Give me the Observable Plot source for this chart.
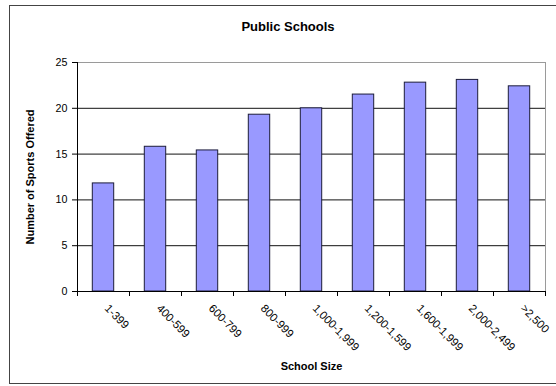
<!DOCTYPE html>
<html>
<head>
<meta charset="utf-8">
<script src="https://cdn.jsdelivr.net/npm/d3@7"></script>
<script src="https://cdn.jsdelivr.net/npm/@observablehq/plot@0.6"></script>
<style>
  html, body { margin: 0; padding: 0; background: #fff; }
  #chart {
    position: relative; width: 556px; height: 386px; overflow: hidden;
    font-family: "Liberation Sans", Arial, sans-serif; background: #fff;
  }
  #outline {
    position: absolute; left: 9px; top: 5px; width: 640px; height: 379px;
    border: 1px solid #444; box-sizing: border-box;
  }
  #title {
    position: absolute; left: 0; top: 20px; width: 576px; text-align: center;
    font-size: 13px; font-weight: bold; line-height: 14px; color: #000;
  }
  #plot { position: absolute; left: 0; top: 0; }
</style>
</head>
<body>
<div id="chart">
  <div id="outline"></div>
  <div id="title">Public Schools</div>
  <div id="plot"></div>
</div>
<script>
// School size groups and the average number of sports offered in each
const sizeGroups = ["1-399", "400-599", "600-799", "800-999", "1,000-1,999", "1,200-1,599", "1,600-1,999", "2,000-2,499", ">2,500"];
const sportsOffered = [11.8, 15.8, 15.4, 19.3, 20.0, 21.5, 22.8, 23.1, 22.4];
const yTicks = [0, 5, 10, 15, 20, 25];
const yGridlines = [5, 10, 15, 20];

const rows = sizeGroups.map((size, i) => ({size, index: i, sports: sportsOffered[i]}));
const n = sizeGroups.length;

const chart = Plot.plot({
  width: 556,
  height: 386,
  marginLeft: 77,
  marginRight: 11,
  marginTop: 62,
  marginBottom: 95,
  style: {fontFamily: "'Liberation Sans', Arial, sans-serif", fontSize: "10.7px", color: "#000", background: "transparent"},
  x: {domain: [0, n], axis: null},
  y: {domain: [0, 25], axis: null},
  marks: [
    Plot.frame({stroke: "#9a9a9a"}),
    Plot.ruleY(yGridlines, {stroke: "#111"}),
    Plot.rectY(rows, {
      x1: "index",
      x2: d => d.index + 1,
      y: "sports",
      insetLeft: 15.3,
      insetRight: 15.3,
      fill: "#9999FF",
      stroke: "#1c1c3a",
      strokeWidth: 1
    }),
    Plot.ruleX([0], {stroke: "#000"}),
    Plot.ruleY([0], {stroke: "#000"}),
    // y axis ticks and labels
    Plot.axisY({ticks: yTicks, tickSize: 5, tickPadding: 5, label: null, stroke: "#000"}),
    // x axis: tick marks at the group boundaries
    Plot.axisX({ticks: d3.range(0, n + 1), tickSize: 5, tickFormat: () => "", label: null, stroke: "#000"}),
    // x axis: slanted group names centred on each bar
    Plot.axisX({
      ticks: d3.range(n).map(i => i + 0.5),
      tickSize: 0,
      tickPadding: 15,
      tickRotate: 45,
      dx: 3,
      fontSize: 11.3,
      tickFormat: t => sizeGroups[Math.floor(t)],
      label: null
    }),
    // axis titles
    Plot.text(["Number of Sports Offered"], {
      frameAnchor: "left", rotate: -90, dx: -47.5,
      textAnchor: "middle", lineAnchor: "middle",
      fontWeight: "bold", fontSize: 11
    }),
    Plot.text(["School Size"], {
      frameAnchor: "bottom", dy: 75,
      textAnchor: "middle", lineAnchor: "middle",
      fontWeight: "bold", fontSize: 11
    })
  ]
});

document.getElementById("plot").appendChild(chart);
</script>
</body>
</html>
